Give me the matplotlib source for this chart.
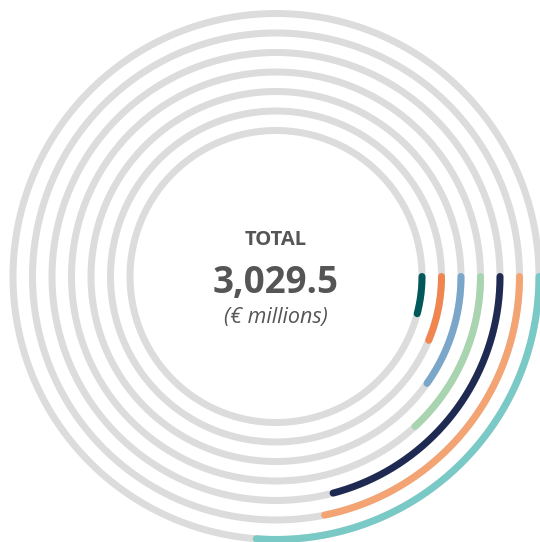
import numpy as np
import matplotlib
matplotlib.use("Agg")
import matplotlib.pyplot as plt

# ---- data (share of total, %), innermost ring first ----
segments = ["S1", "S2", "S3", "S4", "S5", "S6", "S7"]
shares = [4.1, 6.3, 9.8, 13.1, 20.9, 21.8, 26.2]
colors = ["#00585a", "#f0854f", "#7aa7c9", "#a8d4b0", "#1f2a52", "#f4a373", "#79c9c6"]
total_label = "3,029.5"

W, H, DPI = 540, 542, 100
fig = plt.figure(figsize=(W / DPI, H / DPI), dpi=DPI)
ax = fig.add_axes([0, 0, 1, 1])
ax.set_xlim(0, W)
ax.set_ylim(H, 0)
ax.set_axis_off()

cx, cy = 276, 276.5
r0, dr = 146, 19.5
lw = 7 * 72 / DPI
track = "#dcdcdc"

full = np.linspace(0, 2 * np.pi, 721)
for i, (share, col) in enumerate(zip(shares, colors)):
    r = r0 + dr * i
    ax.plot(cx + r * np.cos(full), cy + r * np.sin(full), color=track,
            lw=lw, solid_capstyle="butt", zorder=1)
    ang = np.deg2rad(share / 100 * 360)
    th = np.linspace(0, ang, 200)
    ax.plot(cx + r * np.cos(th), cy + r * np.sin(th), color=col,
            lw=lw, solid_capstyle="round", zorder=2)

txtc = "#555555"
fam = "Open Sans"
ax.text(cx, 240, "TOTAL", ha="center", va="center", fontsize=14.5,
        fontweight="bold", family=fam, color=txtc)
ax.text(cx, 283, total_label, ha="center", va="center", fontsize=26.5,
        fontweight="bold", family=fam, color=txtc)
ax.text(cx, 318, "(€ millions)", ha="center", va="center", fontsize=15.5,
        style="italic", family=fam, color=txtc)

fig.savefig("out.png", dpi=DPI)
